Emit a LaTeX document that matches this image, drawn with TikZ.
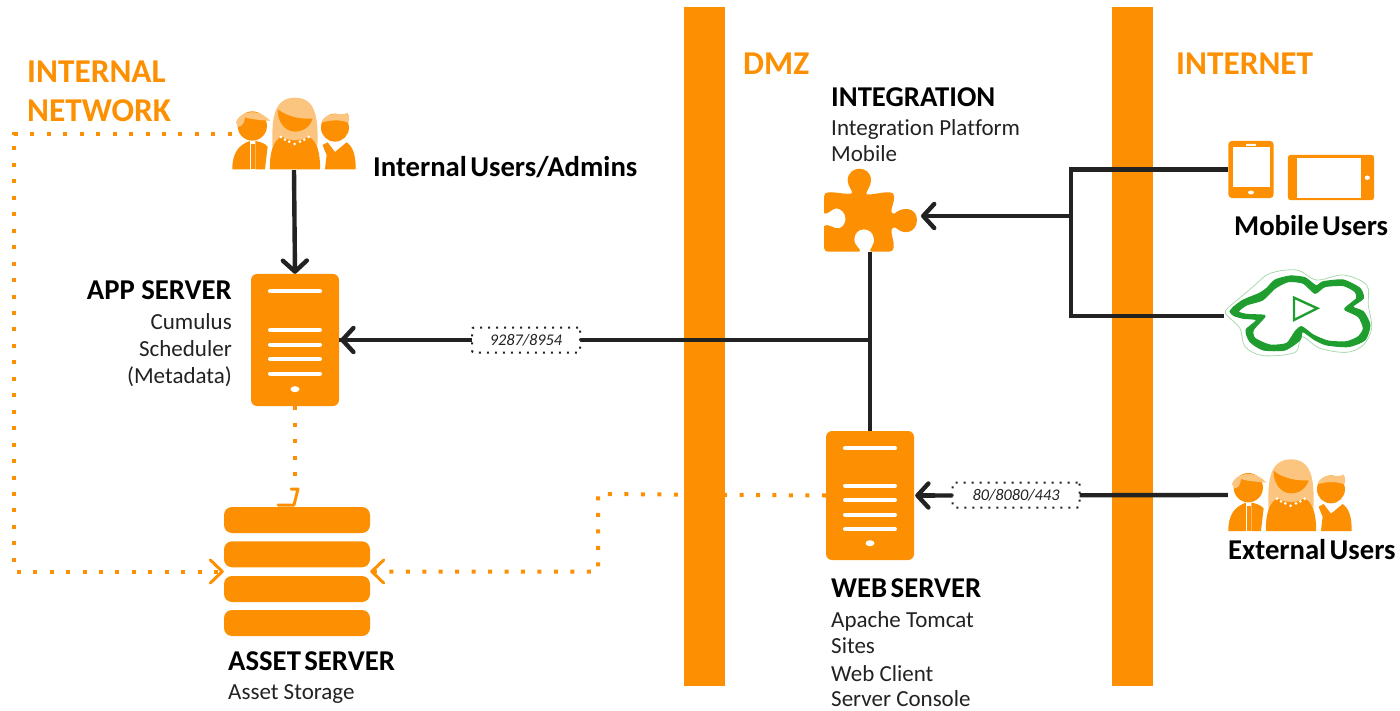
\documentclass[tikz,border=0pt]{standalone}
\usepackage{fontspec}
\setmainfont{Carlito}[Ligatures={NoCommon}]
\usetikzlibrary{arrows.meta,calc}
\definecolor{org}{HTML}{FC9002}
\definecolor{lightorg}{HTML}{FBC57F}
\definecolor{ink}{HTML}{222222}
\definecolor{grn}{HTML}{1F9E2F}
\definecolor{palegrn}{HTML}{A9D9AE}
\tikzset{
  band/.style={fill=org,draw=none,minimum width=41pt,minimum height=679pt,inner sep=0},
  srv/.style={fill=org,draw=none,rounded corners=6pt,minimum width=88pt,minimum height=#1,inner sep=0},
  srvline/.style={white,line width=4pt,line cap=round},
  bar/.style={fill=org,draw=none,rounded corners=8pt,minimum width=146pt,minimum height=26pt,inner sep=0},
  ghost/.style={draw=none,fill=none,inner sep=0},
  wire/.style={ink,line width=4.4pt},
  wiretip/.style={wire,-{Straight Barb[length=11pt,width=24pt,line width=4.4pt,round]}},
  dots/.style={org,line width=4pt,dash pattern=on 4pt off 12.45pt},
  dotstip/.style={dots,-{Straight Barb[length=12pt,width=23pt,line width=3pt,round]}},
  port/.style={draw=ink,fill=white,line width=2pt,dash pattern=on 2pt off 6pt,rounded corners=2pt,inner sep=0,font=\itshape\fontsize{16.3}{18}\selectfont,text=ink},
  title/.style={anchor=base west,inner sep=0,font=\bfseries\fontsize{28.7}{30}\selectfont,text=black},
  zone/.style={anchor=base west,inner sep=0,font=\bfseries\fontsize{33.3}{35}\selectfont,text=org},
  sub/.style={anchor=base west,inner sep=0,font=\fontsize{23}{25}\selectfont,text=ink},
  subr/.style={anchor=base east,inner sep=0,font=\fontsize{23}{25}\selectfont,text=ink},
}
\newcommand{\srvmarks}[1]{%
  \draw[srvline] ($(#1.north)+(-25,17.5)$) -- +(50,0);
  \foreach \d in {-10,4.5,19,33.5}{\draw[srvline] ($(#1.center)+(-25,\d)$) -- +(50,0);}
  \fill[white] ($(#1.south)+(0,-17)$) ellipse (4.5pt and 3pt);
}
\newcommand{\people}[2]{%
  \begin{scope}[shift={(#1,#2)},x=.3333pt,y=-.3333pt,shift={(-697,-388)}]
    % woman
    \fill[lightorg] (818,330) .. controls (815,250) and (815,173) .. (885,173) .. controls (955,173) and (955,250) .. (952,330) -- cycle;
    \fill[org] (833,208) .. controls (865,232) and (905,238) .. (938,236) .. controls (930,262) and (908,275) .. (885,275) .. controls (855,275) and (832,245) .. (833,208) -- cycle;
    \fill[org] (810,388) .. controls (808,340) and (820,300) .. (845,290) .. controls (870,305) and (900,305) .. (925,290) .. controls (950,300) and (962,340) .. (960,388) -- cycle;
    \foreach \p/\q in {843/291,855/299,868/305,884/312,900/305,913/299,926/291}{\fill[white] (\p,\q) circle (4.5);}
    % left man
    \fill[org] (757,258) circle (44);
    \fill[lightorg] (708,247) .. controls (715,225) and (740,215) .. (765,217) .. controls (785,220) and (800,230) .. (811,243) .. controls (790,240) and (760,240) .. (735,232) .. controls (735,250) and (722,262) .. (715,260) -- cycle;
    \fill[org] (697,388) .. controls (697,340) and (715,315) .. (750,303) -- (750,388) -- cycle;
    \fill[org] (752,312) -- (764,312) -- (764,388) -- (752,388) -- cycle;
    \fill[org] (766,303) .. controls (780,305) and (795,310) .. (803,320) -- (795,388) -- (766,388) -- cycle;
    % right man
    \fill[org] (1005,263) circle (42);
    \fill[lightorg] (964,248) .. controls (968,232) and (985,222) .. (1005,222) .. controls (1020,222) and (1035,225) .. (1042,218) .. controls (1050,228) and (1048,240) .. (1045,248) .. controls (1020,238) and (990,240) .. (964,248) -- cycle;
    \fill[org] (975,388) -- (980,345) .. controls (975,335) and (972,325) .. (968,315) -- (983,307) -- (1005,336) -- (1040,307) .. controls (1060,320) and (1068,350) .. (1067,388) -- cycle;
  \end{scope}
}
\begin{document}
\begin{tikzpicture}[x=1pt,y=-1pt]
\useasboundingbox (0,0) rectangle (1400,711);
% zones
\node[band] (dmz) at (704.5,346.5) {};
\node[band] (inet) at (1132,346.5) {};
\begin{scope}[shift={(0,1)}]
\node[zone] (zint1) at (27,82) {INTERNAL};
\node[zone] (zint2) at (27,121) {NETWORK};
\node[zone] (zdmz) at (743,74) {DMZ};
\node[zone] (zinet) at (1176,74) {INTERNET};
\end{scope}
% icons as named holders
\node[ghost,minimum width=124pt,minimum height=72pt] (intusers) at (294,134) {};
\node[ghost,minimum width=126pt,minimum height=72pt] (extusers) at (1291,495) {};
\node[srv=132pt] (app) at (295,340) {};
\srvmarks{app}
\node[srv=129pt] (web) at (870,495.5) {};
\srvmarks{web}
\node[ghost,minimum width=146pt,minimum height=129pt] (asset) at (297,571.5) {};
\node[bar] (b1) at (297,520) {};
\node[bar] (b2) at (297,554.3) {};
\node[bar] (b3) at (297,589) {};
\node[bar] (b4) at (297,623) {};
\node[ghost,minimum width=92pt,minimum height=84pt] (puzzle) at (870,210) {};
\node[ghost,minimum width=45pt,minimum height=57pt] (tablet) at (1251,169.5) {};
\node[ghost,minimum width=86pt,minimum height=45pt] (phone) at (1331,177.5) {};
\node[ghost,minimum width=150pt,minimum height=88pt] (cloud) at (1299,316) {};
% light connectors
\coordinate (jr) at (1071,216);
\coordinate (jc) at (870,340);
\coordinate (cl) at (14,571.5);
\coordinate (cr) at (598,494);
\coordinate (appdown) at (295,489);
% dotted
\draw[dotstip] (intusers.west) -- (intusers.west -| cl) -- (cl) -- (asset.west);
\draw[dotstip] (web.west) -- (cr) -- (cr |- asset.east) -- (asset.east);
\draw[dots] (app.south) -- (appdown);
\draw[org,line width=3pt,line cap=round,line join=round] (291,489) -- (298,489) -- (294,505) -- (278,505);
% solid
\draw[wiretip] (intusers.south) -- (app.north);
\draw[wire] (puzzle.south) -- (web.north);
\draw[wire] (jc) -- (app.east);
\draw[wiretip] (jr) -- (921,216);
\draw[wire] (tablet.west) -- (tablet.west -| jr) -- (jr |- cloud.west) -- (cloud.west);
\draw[wire] (extusers.west) -- ($(web.east)+(20,0)$);
\draw[wiretip] ($(web.east)+(21,0)$) -- ($(web.east)+(1,0)$);
\draw[wiretip] ($(app.east)+(40,0)$) -- ($(app.east)+(1,0)$);
\node[port,minimum width=108pt,minimum height=25pt] (p1) at (526,340) {9287/8954};
\node[port,minimum width=127pt,minimum height=25pt] (p2) at (1016,495) {80/8080/443};
% people
\people{232.3}{169.3}
\people{1228.3}{531}
% puzzle
\begin{scope}[shift={(800,150)},x=.3333pt,y=-.3333pt]
\fill[org] (85,127) .. controls (105,125) and (140,135) .. (155,130)
  .. controls (162,125) and (142,110) .. (143,90) .. controls (145,45) and (212,45) .. (213,90)
  .. controls (214,110) and (195,125) .. (200,133) .. controls (220,135) and (250,125) .. (270,127)
  .. controls (285,127) and (285,145) .. (278,165) .. controls (272,180) and (272,195) .. (285,190)
  .. controls (305,170) and (350,170) .. (351,210) .. controls (350,250) and (310,255) .. (290,235)
  .. controls (272,225) and (272,245) .. (278,265) .. controls (283,285) and (285,305) .. (268,305)
  -- (212,305) .. controls (205,300) and (222,290) .. (222,268) .. controls (220,228) and (163,228) .. (163,268)
  .. controls (163,290) and (188,300) .. (178,305) -- (85,305)
  .. controls (75,305) and (72,298) .. (72,288) -- (72,228)
  .. controls (85,218) and (100,238) .. (118,235) .. controls (145,225) and (142,180) .. (110,175)
  .. controls (95,175) and (85,195) .. (72,190) -- (72,140) .. controls (72,132) and (77,127) .. (85,127) -- cycle;
\end{scope}
% tablet / phone
\fill[org,rounded corners=4pt] (tablet.south west) rectangle (tablet.north east);
\fill[white] (1232.7,147.3) rectangle (1270,187.3);
\fill[white,rounded corners=.5pt] (1246,144) rectangle (1256,145.8);
\fill[white] (1251,192.5) ellipse (3pt and 2pt);
\fill[org,rounded corners=3pt] (phone.south west) rectangle (phone.north east);
\fill[white] (1296.7,158) rectangle (1361,197.7);
\fill[white] (1367.3,177.7) ellipse (2.6pt and 2.2pt);
% cloud
\begin{scope}[shift={(1220,265)},x=.3333pt,y=-.3333pt]
\draw[palegrn,line width=.8pt] plot[smooth cycle,tension=.55] coordinates {(18,135) (70,90) (105,60) (150,25) (230,15) (290,45) (370,30) (440,60) (445,120) (455,190) (430,240) (380,262) (300,250) (245,215) (225,262) (130,272) (75,245) (60,190) (25,155)};
\filldraw[grn,line width=1pt,even odd rule]
  plot[smooth cycle,tension=.4] coordinates {(30,140) (42,125) (70,105) (118,85) (140,70) (165,45) (210,33) (255,38) (288,62) (310,50) (370,45) (420,70) (430,100) (398,125) (430,140) (450,180) (435,225) (385,245) (320,240) (285,225) (248,200) (240,225) (195,255) (130,255) (90,230) (78,195) (110,165) (70,160) (42,152)}
  plot[smooth cycle,tension=.4] coordinates {(55,140) (80,120) (128,105) (165,70) (205,50) (250,55) (285,85) (315,65) (370,62) (405,80) (410,100) (380,125) (375,135) (415,155) (430,190) (415,215) (380,230) (325,228) (280,210) (245,185) (225,200) (200,235) (150,240) (105,220) (100,195) (135,155) (125,150) (80,148)};
\draw[grn,line width=2.4pt,line join=miter] (222,98) -- (292,130) -- (222,165) -- cycle;
\end{scope}
% texts
\begin{scope}[shift={(0,1)}]
\node[title] (tiu) at (373,176) {Internal\hspace{.12em}Users/Admins};
\node[title,anchor=base east] (tapp) at (232,299) {APP SERVER};
\node[subr] (s1) at (232,328) {Cumulus};
\node[subr] (s2) at (232,355) {Scheduler};
\node[subr] (s3) at (232,382) {(Metadata)};
\node[title] (tint) at (831,106) {INTEGRATION};
\node[sub] (s4) at (831,135) {Integration Platform};
\node[sub] (s5) at (831,161) {Mobile};
\node[title] (tmu) at (1234,235) {Mobile\hspace{.12em}Users};
\node[title] (teu) at (1228,558) {External\hspace{.12em}Users};
\node[title] (tweb) at (831,596) {WEB\hspace{.12em}SERVER};
\node[sub] (s6) at (831,626) {Apache Tomcat};
\node[sub] (s7) at (831,652) {Sites};
\node[sub] (s8) at (831,680) {Web Client};
\node[sub] (s9) at (831,705) {Server Console};
\node[title] (tas) at (228,669) {ASSET\hspace{.12em}SERVER};
\node[sub] (s10) at (228,698) {Asset Storage};
\end{scope}
\end{tikzpicture}
\end{document}
